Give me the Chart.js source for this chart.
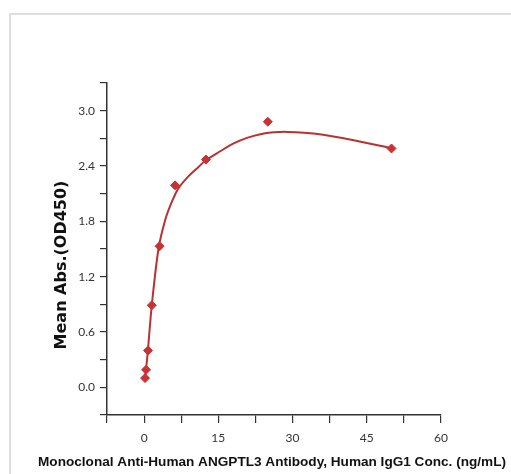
<!DOCTYPE html>
<html>
<head>
<meta charset="utf-8">
<script src="https://cdn.jsdelivr.net/npm/chart.js@4"></script>
<style>
  html, body { margin: 0; padding: 0; background: #fff; }
  #wrap { position: relative; width: 511px; height: 474px; overflow: hidden; }
  #frame { position: absolute; left: 9px; top: 13px; width: 600px; height: 600px;
           border-left: 2px solid #dedede; border-top: 2px solid #dedede; }
  canvas { position: absolute; left: 0; top: 0; }
</style>
</head>
<body>
<div id="wrap">
  <div id="frame"></div>
  <canvas id="c" width="511" height="474"></canvas>
</div>
<script>
// Measured points: concentration (ng/mL) and mean absorbance (OD450)
const concentrations = [0.195, 0.39, 0.78, 1.5625, 3.125, 6.25, 12.5, 25, 50];
const absorbance     = [0.10, 0.19, 0.40, 0.89, 1.53, 2.19, 2.47, 2.88, 2.59];

// Fitted curve
const fitX = [0.2, 0.4, 0.75, 1.55, 2.9, 4.26, 5.6, 6.95, 9.0, 11.0, 12.4, 15.4, 18.1, 20.8, 23.5, 26.2, 28.9, 34.7, 42.4, 50.1];
const fitY = [0.11, 0.20, 0.39, 0.89, 1.50, 1.815, 2.01, 2.16, 2.29, 2.39, 2.46, 2.56, 2.645, 2.705, 2.745, 2.765, 2.77, 2.75, 2.68, 2.59];

// Axis tick labels
const xTickLabels = [0, 15, 30, 45, 60];
const yTickLabels = [0.0, 0.6, 1.2, 1.8, 2.4, 3.0];

const xTitle = 'Monoclonal Anti-Human ANGPTL3 Antibody, Human IgG1 Conc. (ng/mL)';
const yTitle = 'Mean Abs.(OD450)';

const pointData = concentrations.map((x, i) => ({ x: x, y: absorbance[i] }));
const fitData = fitX.map((x, i) => ({ x: x, y: fitY[i] }));

const axisColor = '#333333';
const tickFont = { family: 'Lato', size: 12 };

// Axis titles drawn as canvas text (no width squeeze, free placement)
const axisTitlePlugin = {
  id: 'axisTitlePlugin',
  afterDraw(chart) {
    const ctx = chart.ctx;
    ctx.save();
    ctx.fillStyle = '#111';
    ctx.textAlign = 'center';
    ctx.textBaseline = 'middle';
    ctx.font = 'bold 13.6px "Liberation Sans", Arial, sans-serif';
    ctx.fillText(xTitle, 272, 462);
    ctx.translate(62, 265);
    ctx.rotate(-Math.PI / 2);
    ctx.font = 'bold 16px "DejaVu Sans", sans-serif';
    ctx.fillText(yTitle, 0, 0);
    ctx.restore();
  }
};

new Chart(document.getElementById('c'), {
  type: 'scatter',
  data: {
    datasets: [
      {
        label: 'fit',
        data: fitData,
        showLine: true,
        borderColor: '#bb3030',
        borderWidth: 2,
        pointRadius: 0,
        tension: 0.3,
        order: 2
      },
      {
        label: 'data',
        data: pointData,
        pointStyle: 'rectRot',
        pointRadius: 4.5,
        backgroundColor: '#c83232',
        borderColor: '#c83232',
        borderWidth: 1,
        showLine: false,
        order: 1
      }
    ]
  },
  plugins: [axisTitlePlugin],
  options: {
    responsive: false,
    animation: false,
    devicePixelRatio: 1,
    layout: { padding: { left: 0, right: 70, top: 83, bottom: 0 } },
    plugins: { legend: { display: false }, tooltip: { enabled: false } },
    scales: {
      x: {
        type: 'linear',
        min: -7.5,
        max: 60,
        afterFit: (s) => { s.height = 59; },
        border: { display: true, color: axisColor, width: 1.5 },
        grid: { display: true, drawOnChartArea: false, drawTicks: true, tickLength: 8, color: axisColor, lineWidth: 1.2 },
        ticks: {
          stepSize: 7.5,
          color: '#333',
          font: tickFont,
          padding: 8,
          maxRotation: 0,
          autoSkip: false,
          callback: (v) => xTickLabels.includes(Math.round(v * 10) / 10) ? String(v) : ''
        },
        title: { display: false }
      },
      y: {
        type: 'linear',
        min: -0.3,
        max: 3.3,
        afterFit: (s) => { s.width = 107; },
        border: { display: true, color: axisColor, width: 1.5 },
        grid: { display: true, drawOnChartArea: false, drawTicks: true, tickLength: 7, color: axisColor, lineWidth: 1.2 },
        ticks: {
          stepSize: 0.3,
          color: '#333',
          font: tickFont,
          padding: 5,
          autoSkip: false,
          callback: (v) => {
            const r = Math.round(v * 10) / 10;
            return yTickLabels.some(t => Math.abs(t - r) < 1e-6) ? r.toFixed(1) : '';
          }
        },
        title: { display: false }
      }
    }
  }
});
</script>
</body>
</html>
